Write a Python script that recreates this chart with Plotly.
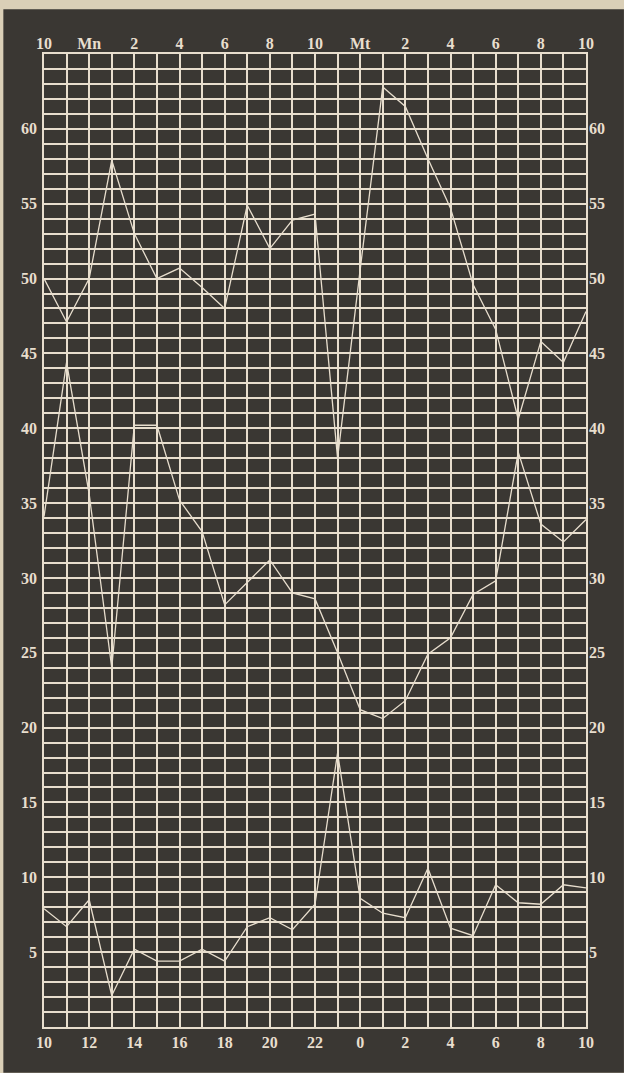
import plotly.graph_objects as go

# Hours elapsed from 10 o'clock (one reading per hour, 24 hours)
hours = [0, 1, 2, 3, 4, 5, 6, 7, 8, 9, 10, 11, 12, 13, 14, 15, 16, 17, 18, 19, 20, 21, 22, 23, 24]

upper_series = [50.0, 47.1, 50.0, 57.9, 53.0, 50.0, 50.7, 49.4, 48.0, 54.9, 52.0, 53.9, 54.3,
                38.0, 50.6, 62.8, 61.5, 58.0, 54.7, 49.6, 46.6, 40.6, 45.8, 44.4, 47.8]
middle_series = [34.1, 44.4, 35.6, 24.0, 40.2, 40.2, 35.2, 33.1, 28.2, 29.7, 31.2, 29.0, 28.6,
                 25.0, 21.2, 20.6, 21.8, 24.9, 26.0, 28.9, 29.8, 38.4, 33.6, 32.4, 33.9]
lower_series = [7.9, 6.7, 8.5, 2.1, 5.2, 4.4, 4.4, 5.2, 4.4, 6.7, 7.3, 6.5, 8.2,
                18.3, 8.6, 7.6, 7.3, 10.6, 6.6, 6.1, 9.5, 8.3, 8.2, 9.5, 9.3]

top_labels = ["10", "Mn", "2", "4", "6", "8", "10", "Mt", "2", "4", "6", "8", "10"]
bottom_labels = ["10", "12", "14", "16", "18", "20", "22", "0", "2", "4", "6", "8", "10"]
y_label_values = [5, 10, 15, 20, 25, 30, 35, 40, 45, 50, 55, 60]
y_max = 65

DARK = "#3a3733"
PAPER = "#dacfb7"
CREAM = "#e8dece"
FONT = dict(family="Liberation Serif, DejaVu Serif, serif", size=16, color=CREAM, weight="bold")

label_hours = hours[::2]
x_tickvals = hours
x_bottom_text = []
x_top_text = []
for h in hours:
    if h in label_hours:
        i = label_hours.index(h)
        x_bottom_text.append(bottom_labels[i])
        x_top_text.append(top_labels[i])
    else:
        x_bottom_text.append("")
        x_top_text.append("")

y_tickvals = list(range(0, y_max + 1))
y_text = [str(v) if v in y_label_values else "" for v in y_tickvals]

fig = go.Figure()
line_style = dict(color=CREAM, width=1.3)
for name, vals in [("upper", upper_series), ("middle", middle_series), ("lower", lower_series)]:
    fig.add_trace(go.Scatter(x=hours, y=vals, mode="lines", line=line_style, name=name,
                             hoverinfo="x+y"))

# invisible trace carrying the top / right label axes
fig.add_trace(go.Scatter(x=[hours[0], hours[-1]], y=[0, y_max], xaxis="x2", yaxis="y2",
                         mode="markers", marker=dict(opacity=0), hoverinfo="skip",
                         showlegend=False))

fig.add_shape(type="rect", xref="paper", yref="paper", x0=-0.075, x1=1.07,
              y0=-0.047, y1=1.046, fillcolor=DARK, line=dict(width=0), layer="below")

grid = dict(showgrid=True, gridcolor=CREAM, gridwidth=1.6, zeroline=False,
            showline=True, linecolor=CREAM, linewidth=1.8, mirror=True,
            ticks="", tickfont=FONT)

fig.update_layout(
    width=624, height=1073,
    margin=dict(l=44, r=38, t=54, b=46, autoexpand=False),
    paper_bgcolor=PAPER,
    plot_bgcolor=DARK,
    showlegend=False,
    xaxis=dict(range=[hours[0], hours[-1]], tickmode="array", tickvals=x_tickvals,
               ticktext=x_bottom_text, ticklabelstandoff=0, **grid),
    xaxis2=dict(range=[hours[0], hours[-1]], overlaying="x", side="top", tickmode="array",
                tickvals=x_tickvals, ticktext=x_top_text, showgrid=False, zeroline=False,
                ticks="", tickfont=FONT, ticklabelstandoff=1),
    yaxis=dict(range=[0, y_max], tickmode="array", tickvals=y_tickvals, ticktext=y_text,
               ticklabelstandoff=2, **grid),
    yaxis2=dict(range=[0, y_max], overlaying="y", side="right", tickmode="array",
                tickvals=y_tickvals, ticktext=y_text, showgrid=False, zeroline=False,
                ticks="", tickfont=FONT, ticklabelstandoff=2),
)

fig.write_html("out.html", config={"displayModeBar": False},
               post_script="document.body.style.margin='0';document.body.style.overflow='hidden';")
